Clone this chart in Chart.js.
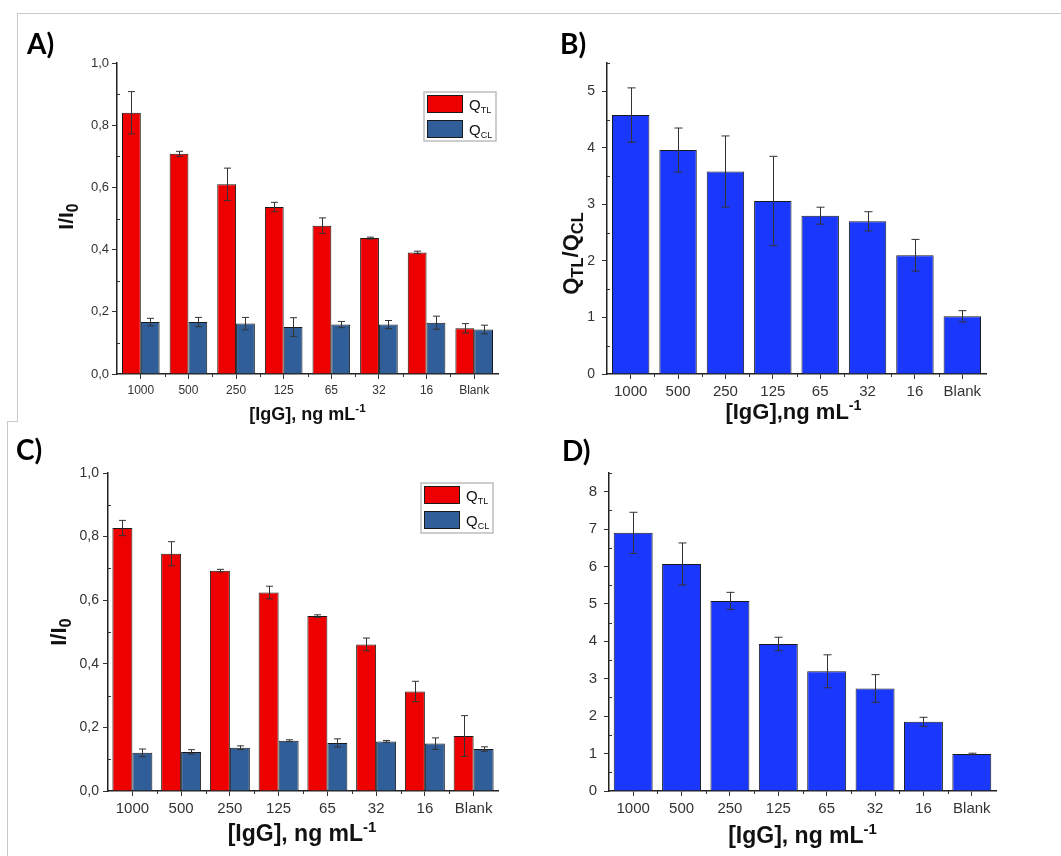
<!DOCTYPE html>
<html><head><meta charset="utf-8">
<script src="https://cdn.jsdelivr.net/npm/chart.js@4.4.1/dist/chart.umd.min.js"></script>
<style>
body{margin:0;background:#fff;width:1061px;height:856px;overflow:hidden;position:relative}
canvas{position:absolute}
.ln{position:absolute;background:#c9c9c9}
</style></head><body>
<div class="ln" style="left:17px;top:13px;width:1044px;height:1px"></div>
<div class="ln" style="left:17px;top:13px;width:1px;height:409px"></div>
<div class="ln" style="left:7px;top:421px;width:11px;height:1px"></div>
<div class="ln" style="left:7px;top:421px;width:1px;height:435px"></div>
<canvas id="cA" width="530" height="430" style="left:0;top:0"></canvas>
<canvas id="cB" width="531" height="430" style="left:530px;top:0"></canvas>
<canvas id="cC" width="530" height="436" style="left:0;top:420px"></canvas>
<canvas id="cD" width="531" height="436" style="left:530px;top:420px"></canvas>
<script>
// ---- data ----
const categories = ['1000','500','250','125','65','32','16','Blank'];
const yTicksAC = ['0,0','0,2','0,4','0,6','0,8','1,0'];
const yTicksB = ['0','1','2','3','4','5'];
const yTicksD = ['0','1','2','3','4','5','6','7','8'];
const seriesNames = ['Q_TL','Q_CL'];

const aTL    = [0.840,0.708,0.610,0.537,0.477,0.437,0.391,0.147];
const aTLErr = [0.068,0.008,0.052,0.015,0.025,0.003,0.004,0.015];
const aCL    = [0.167,0.167,0.162,0.151,0.159,0.159,0.165,0.143];
const aCLErr = [0.012,0.015,0.020,0.030,0.010,0.013,0.021,0.014];

const bRatio = [4.58,3.96,3.58,3.06,2.80,2.70,2.10,1.02];
const bErr   = [0.48,0.39,0.63,0.79,0.15,0.17,0.28,0.10];

const cTL    = [0.827,0.746,0.693,0.624,0.550,0.461,0.313,0.173];
const cTLErr = [0.024,0.038,0.004,0.020,0.004,0.020,0.032,0.064];
const cCL    = [0.120,0.123,0.136,0.158,0.151,0.156,0.149,0.132];
const cCLErr = [0.012,0.007,0.006,0.003,0.013,0.003,0.018,0.007];

const dRatio = [6.90,6.07,5.08,3.93,3.20,2.74,1.85,0.99];
const dErr   = [0.55,0.56,0.23,0.18,0.44,0.37,0.12,0.02];

// ---- styles ----
const RED = '#ee0000', STEEL = '#2f5e98', BLUE = '#1a38fb', EDGE = '#1a1a1a';
const SANS = '"Liberation Sans", Arial, sans-serif';

function drawRich(ctx, parts, cx, cy, size, rotate, subScale){
  const ss = subScale || 0.7;
  ctx.save();
  ctx.translate(cx, cy);
  if (rotate) ctx.rotate(-Math.PI/2);
  ctx.fillStyle = '#111';
  ctx.textBaseline = 'middle';
  ctx.textAlign = 'left';
  let total = 0;
  for (const p of parts){
    const s = (p.sub||p.sup) ? size*ss : size;
    ctx.font = 'bold ' + s + 'px ' + SANS;
    total += ctx.measureText(p.t).width;
  }
  let x = -total/2;
  for (const p of parts){
    const s = (p.sub||p.sup) ? size*ss : size;
    ctx.font = 'bold ' + s + 'px ' + SANS;
    const dy = p.sub ? size*0.3 : (p.sup ? -size*0.33 : 0);
    ctx.fillText(p.t, x, dy);
    x += ctx.measureText(p.t).width;
  }
  ctx.restore();
}

const decoPlugin = {
  id: 'deco',
  afterDatasetsDraw(chart){
    const ctx = chart.ctx, ys = chart.scales.y;
    const cap = chart.options.plugins.deco.cap;
    chart.data.datasets.forEach((ds, i) => {
      const meta = chart.getDatasetMeta(i);
      meta.data.forEach((el, j) => {
        const v = ds.data[j], e = ds.errors[j];
        const y1 = ys.getPixelForValue(v + e), y2 = ys.getPixelForValue(v - e);
        const x = Math.round(el.x) + 0.5;
        ctx.save();
        ctx.strokeStyle = '#333';
        ctx.lineWidth = 1;
        ctx.beginPath();
        ctx.moveTo(x, y1); ctx.lineTo(x, y2);
        ctx.moveTo(x - cap, y1); ctx.lineTo(x + cap, y1);
        ctx.moveTo(x - cap, y2); ctx.lineTo(x + cap, y2);
        ctx.stroke();
        ctx.restore();
      });
    });
  },
  afterDraw(chart){
    const o = chart.options.plugins.deco;
    const ctx = chart.ctx, ys = chart.scales.y, xs = chart.scales.x, ca = chart.chartArea;
    // minor ticks
    ctx.save();
    ctx.strokeStyle = '#333'; ctx.lineWidth = 1;
    ctx.beginPath();
    const tv = ys.ticks.map(t => t.value);
    const step = tv[1] - tv[0];
    for (let k = 0; k < tv.length; k++){
      const m = tv[k] + step/2;
      if (m <= ys.max + 1e-9){
        const py = Math.round(ys.getPixelForValue(m)) + 0.5;
        ctx.moveTo(ca.left, py); ctx.lineTo(ca.left + 3, py);
      }
    }
    for (let i = 0; i < categories.length - 1; i++){
      const px = Math.round(xs.getPixelForValue(i + 0.5)) + 0.5;
      ctx.moveTo(px, ca.bottom); ctx.lineTo(px, ca.bottom + 3);
    }
    ctx.stroke();
    ctx.restore();
    // panel label
    ctx.save();
    ctx.fillStyle = '#000';
    ctx.font = 'bold ' + o.labelSize + 'px Lato, "Open Sans", sans-serif';
    ctx.textBaseline = 'alphabetic';
    ctx.fillText(o.label, o.labelX, o.labelY);
    ctx.restore();
    // axis titles
    if (o.yTitle) drawRich(ctx, o.yTitle, o.yTitleX, (ca.top + ca.bottom)/2 + (o.yTitleShift||0), o.yTitleSize, true, o.yTitleSub);
    drawRich(ctx, o.xTitle, (ca.left + ca.right)/2 + (o.xTitleShift||0), o.xTitleY, o.xTitleSize, false, 0.65);
    // legend
    if (o.legend){
      const L = o.legend;
      ctx.save();
      ctx.fillStyle = '#fff';
      ctx.strokeStyle = '#bdbdbd'; ctx.lineWidth = 1.5;
      ctx.fillRect(L.x, L.y, L.w, L.h);
      ctx.strokeRect(L.x, L.y, L.w, L.h);
      chart.data.datasets.forEach((ds, i) => {
        const sy = L.y + 3 + i * 25;
        ctx.fillStyle = ds.backgroundColor;
        ctx.fillRect(L.x + 3, sy, 36, 18);
        ctx.strokeStyle = EDGE; ctx.lineWidth = 1;
        ctx.strokeRect(L.x + 3.5, sy + 0.5, 35, 17);
        const nm = ds.label.split('_');
        ctx.fillStyle = '#111';
        ctx.textBaseline = 'alphabetic';
        ctx.font = '15px ' + SANS;
        ctx.fillText(nm[0], L.x + 45, sy + 15);
        const w = ctx.measureText(nm[0]).width;
        ctx.font = '9px ' + SANS;
        ctx.fillText(nm[1], L.x + 45 + w, sy + 18);
      });
      ctx.restore();
    }
  }
};

function makeChart(id, datasets, cfg){
  const tickFontX = {family: SANS, size: cfg.xFont};
  const tickFontY = {family: SANS, size: cfg.yFont};
  return new Chart(document.getElementById(id), {
    type: 'bar',
    data: {labels: categories, datasets},
    options: {
      responsive: false, animation: false, devicePixelRatio: 1,
      layout: {padding: {left: 0, top: cfg.top, right: cfg.right, bottom: 0}},
      datasets: {bar: {barPercentage: 1, categoryPercentage: cfg.cat, borderWidth: 1, borderColor: EDGE}},
      plugins: {legend: {display: false}, tooltip: {enabled: false}, deco: cfg.deco},
      scales: {
        x: {
          type: 'category', offset: true,
          grid: {display: true, drawOnChartArea: false, offset: false, tickLength: 5, tickColor: '#333', tickWidth: 1},
          border: {display: true, color: '#222', width: 1.5},
          ticks: {font: tickFontX, color: '#333', padding: cfg.xPad, maxRotation: 0, autoSkip: false},
          afterFit(s){ s.height = cfg.xH; }
        },
        y: {
          min: 0, max: cfg.max,
          grid: {display: true, drawOnChartArea: false, tickLength: 5, tickColor: '#333', tickWidth: 1},
          border: {display: true, color: '#222', width: 1.5},
          ticks: {stepSize: cfg.step, includeBounds: false, font: tickFontY, color: '#333', padding: cfg.yPad,
                  callback: (v, i) => cfg.yLabels[i]},
          afterFit(s){ s.width = cfg.yW; }
        }
      }
    },
    plugins: [decoPlugin]
  });
}

const IgG = (comma) => [{t: comma ? '[IgG], ng mL' : '[IgG],ng mL'}, {t: '-1', sup: true}];

makeChart('cA', [
  {label: seriesNames[0], data: aTL, errors: aTLErr, backgroundColor: RED},
  {label: seriesNames[1], data: aCL, errors: aCLErr, backgroundColor: STEEL}
], {top: 63, right: 32, yW: 117, xH: 56, cat: 0.79, max: 1, step: 0.2, yLabels: yTicksAC,
    xFont: 12, yFont: 13, xPad: 4, yPad: 3,
    deco: {cap: 3.5, label: 'A)', labelX: 27, labelY: 54, labelSize: 28,
      yTitle: [{t: 'I/I'}, {t: '0', sub: true}], yTitleX: 67, yTitleSize: 21, yTitleShift: -2, yTitleSub: 0.75,
      xTitle: IgG(true), xTitleY: 415, xTitleSize: 18,
      legend: {x: 424, y: 92, w: 72, h: 49}}});

makeChart('cB', [
  {label: 'ratio', data: bRatio, errors: bErr, backgroundColor: BLUE}
], {top: 63, right: 75, yW: 77, xH: 56, cat: 0.79, max: 5.5, step: 1, yLabels: yTicksB,
    xFont: 15, yFont: 14, xPad: 4, yPad: 7,
    deco: {cap: 4, label: 'B)', labelX: 30, labelY: 54, labelSize: 28,
      yTitle: [{t: 'Q'}, {t: 'TL', sub: true}, {t: '/Q'}, {t: 'CL', sub: true}], yTitleX: 42, yTitleSize: 22, yTitleShift: 35, yTitleSub: 0.75,
      xTitle: IgG(false), xTitleY: 413, xTitleSize: 22, xTitleShift: -3,
      legend: null}});

makeChart('cC', [
  {label: seriesNames[0], data: cTL, errors: cTLErr, backgroundColor: RED},
  {label: seriesNames[1], data: cCL, errors: cCLErr, backgroundColor: STEEL}
], {top: 53, right: 32, yW: 108, xH: 65, cat: 0.82, max: 1, step: 0.2, yLabels: yTicksAC,
    xFont: 15, yFont: 14, xPad: 4, yPad: 4,
    deco: {cap: 3.5, label: 'C)', labelX: 16, labelY: 40, labelSize: 28,
      yTitle: [{t: 'I/I'}, {t: '0', sub: true}], yTitleX: 60, yTitleSize: 22, yTitleShift: 0, yTitleSub: 0.75,
      xTitle: IgG(true), xTitleY: 415, xTitleSize: 23, xTitleShift: -1,
      legend: {x: 421, y: 63, w: 72, h: 50}}});

makeChart('cD', [
  {label: 'ratio', data: dRatio, errors: dErr, backgroundColor: BLUE}
], {top: 53, right: 65, yW: 79, xH: 65, cat: 0.805, max: 8.5, step: 1, yLabels: yTicksD,
    xFont: 15, yFont: 15, xPad: 4, yPad: 7,
    deco: {cap: 4, label: 'D)', labelX: 32, labelY: 41, labelSize: 28,
      yTitle: null,
      xTitle: IgG(true), xTitleY: 417, xTitleSize: 23, xTitleShift: 0,
      legend: null}});
</script>
</body></html>
